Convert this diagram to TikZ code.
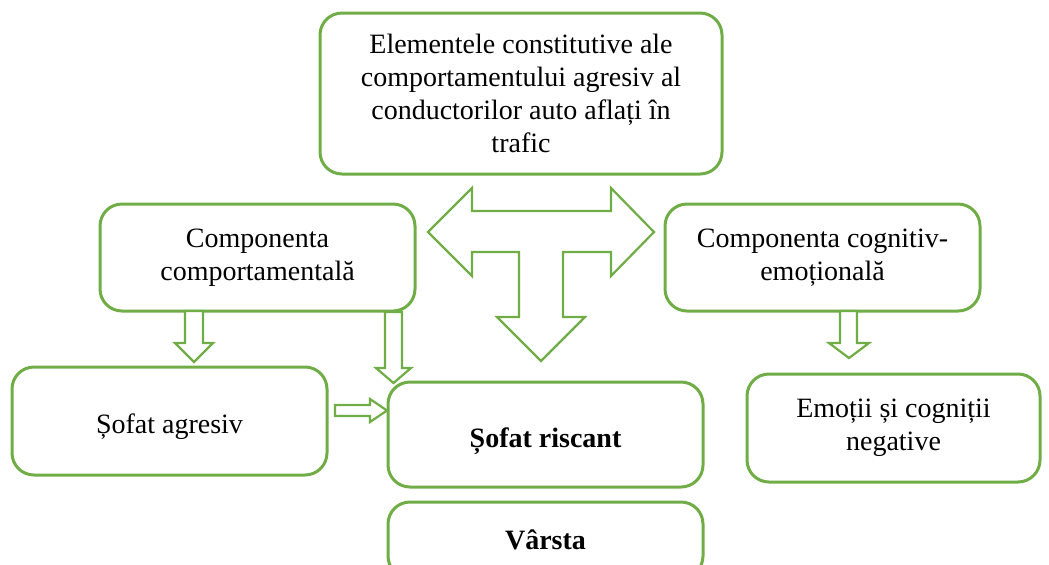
\documentclass[tikz,border=0pt]{standalone}
\usepackage{fontspec}
\setmainfont{Liberation Serif}
\usepackage{tikz}
\usepackage{xcolor}
\definecolor{leaf}{RGB}{112,173,71}

\tikzset{
  box/.style={draw=leaf, line width=1.5pt, rounded corners=11pt, fill=white,
    align=center, inner sep=0pt, font=\fontsize{14}{16.5}\selectfont},
  blockarrow/.style={draw=leaf, line width=1.1pt, fill=white, line join=miter}
}

\begin{document}
\begin{tikzpicture}[x=0.5pt,y=-0.5pt]
\useasboundingbox (0,0) rectangle (1049,564);
\node[box, minimum width=201pt, minimum height=80.5pt] (top) at (521,93.5) {Elementele constitutive ale\\comportamentului agresiv al\\conductorilor auto aflați în\\trafic};
\node[box, minimum width=157.5pt, minimum height=53.5pt] (behav) at (257.5,257.5) {Componenta\\comportamentală};
\node[box, minimum width=157.5pt, minimum height=53.5pt] (cogn) at (822.5,257.5) {Componenta cognitiv-\\emoțională};
\node[box, minimum width=157.5pt, minimum height=54pt, text height=15.6pt] (aggr) at (169.5,421) {Șofat agresiv};
\node[box, minimum width=157.5pt, minimum height=52.5pt, text height=16.6pt] (risk) at (545.5,434.5) {\textbf{Șofat riscant}};
\node[box, minimum width=157.5pt, minimum height=38pt] (age) at (545.5,540) {\textbf{Vârsta}};
\node[box, minimum width=146.5pt, minimum height=54pt] (emo) at (893.5,428) {Emoții și cogniții\\negative};
% the T arrow
\draw[blockarrow] (428,232) -- (472,188) -- (472,211) -- (611,211) -- (611,188) -- (654,232) -- (611,276) -- (611,252) -- (563,252) -- (563,317) -- (585,317) -- (541,361) -- (497,317) -- (519,317) -- (519,252) -- (472,252) -- (472,276) -- cycle;
% small block arrows
\draw[blockarrow] (185,311) -- (203,311) -- (203,343) -- (213,343) -- (194,362) -- (175,343) -- (185,343) -- cycle;
\draw[blockarrow] (385,312) -- (402,312) -- (402,368) -- (411,368) -- (393.5,383) -- (376,368) -- (385,368) -- cycle;
\draw[blockarrow] (335,405) -- (370,405) -- (370,399) -- (387,410.5) -- (370,422) -- (370,416) -- (335,416) -- cycle;
\draw[blockarrow] (840,311) -- (857,311) -- (857,343) -- (869,343) -- (849,358) -- (829,343) -- (840,343) -- cycle;
\end{tikzpicture}
\end{document}
